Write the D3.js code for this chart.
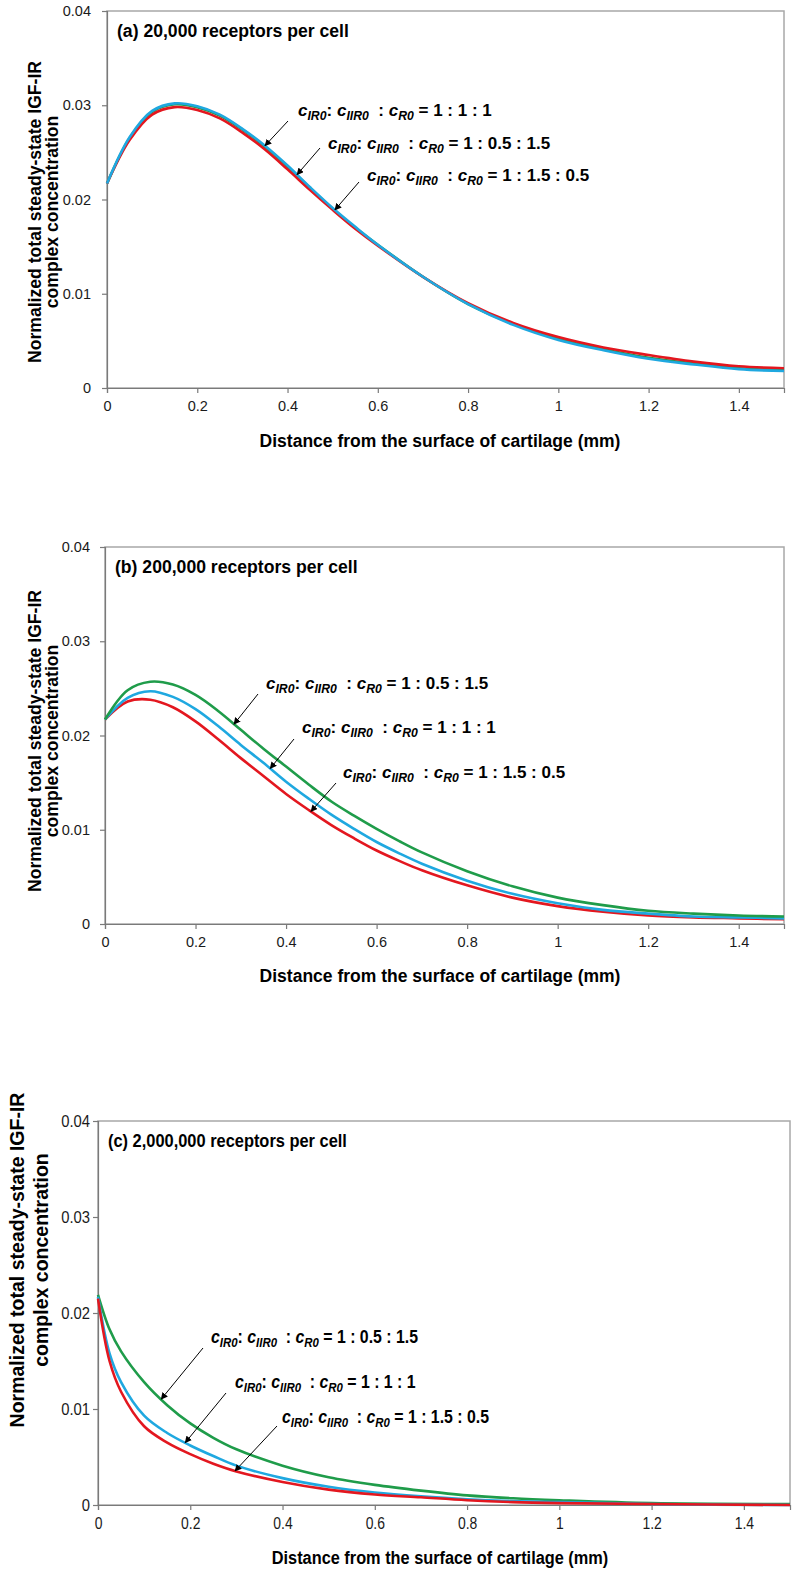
<!DOCTYPE html>
<html>
<head>
<meta charset="utf-8">
<script src="https://cdn.jsdelivr.net/npm/d3@7"></script>
<style>
  body { margin: 0; background: #fff; }
  text { font-family: "Liberation Sans", Arial, sans-serif; }
</style>
</head>
<body>
<div id="chart"></div>
<script>
// tick values / labels
var xTicks = [0, 0.2, 0.4, 0.6, 0.8, 1, 1.2, 1.4]
var xTickLabels = ['0', '0.2', '0.4', '0.6', '0.8', '1', '1.2', '1.4']
var yTicks = [0, 0.01, 0.02, 0.03, 0.04]
var yTickLabels = ['0', '0.01', '0.02', '0.03', '0.04']
var ratioLabels = ['1 : 1 : 1', '1 : 0.5 : 1.5', '1 : 1.5 : 0.5']
var panelTitles = ['(a) 20,000 receptors per cell', '(b) 200,000 receptors per cell', '(c) 2,000,000 receptors per cell']

// panel (a) 20,000 receptors
var distA = [0, 0.05, 0.1, 0.15, 0.2, 0.25, 0.3, 0.35, 0.4, 0.45, 0.5, 0.55, 0.6, 0.7, 0.8, 0.9, 1.0, 1.1, 1.2, 1.3, 1.4, 1.5]
var aRed   = [0.0217, 0.0263, 0.0290, 0.0298, 0.0295, 0.0286, 0.0271, 0.0253, 0.0232, 0.0210, 0.0189, 0.0169, 0.0151, 0.0118, 0.0090, 0.0069, 0.0054, 0.0043, 0.0035, 0.0028, 0.0023, 0.0021]
var aBlue  = [0.0217, 0.0266, 0.0294, 0.0302, 0.0299, 0.0290, 0.0275, 0.0257, 0.0236, 0.0213, 0.0191, 0.0171, 0.0152, 0.0118, 0.0089, 0.0067, 0.0051, 0.0040, 0.0031, 0.0025, 0.0020, 0.0018]
var aGreen = [0.0217, 0.0265, 0.0293, 0.0301, 0.0298, 0.0289, 0.0274, 0.0256, 0.0235, 0.0212, 0.0190, 0.0170, 0.0152, 0.0118, 0.0089, 0.0068, 0.0052, 0.0041, 0.0032, 0.0026, 0.0021, 0.0019]

// panel (b) 200,000 receptors
var distB = [0, 0.05, 0.1, 0.15, 0.2, 0.25, 0.3, 0.35, 0.4, 0.45, 0.5, 0.55, 0.6, 0.65, 0.7, 0.8, 0.9, 1.0, 1.1, 1.2, 1.3, 1.4, 1.5]
var bGreen = [0.0217, 0.0248, 0.0257, 0.0254, 0.0243, 0.0226, 0.0206, 0.0186, 0.0167, 0.0148, 0.0130, 0.0115, 0.0101, 0.0088, 0.0076, 0.0056, 0.0040, 0.0028, 0.0020, 0.0014, 0.0011, 0.0009, 0.0008]
var bBlue  = [0.0217, 0.0240, 0.0247, 0.0241, 0.0228, 0.0210, 0.0190, 0.0171, 0.0151, 0.0133, 0.0116, 0.0101, 0.0087, 0.0075, 0.0064, 0.0046, 0.0032, 0.0022, 0.0015, 0.0011, 0.0008, 0.0007, 0.0006]
var bRed   = [0.0217, 0.0236, 0.0238, 0.0230, 0.0215, 0.0196, 0.0176, 0.0157, 0.0138, 0.0121, 0.0105, 0.0091, 0.0078, 0.0067, 0.0057, 0.0041, 0.0028, 0.0019, 0.0013, 0.0009, 0.0007, 0.0006, 0.0005]

// panel (c) 2,000,000 receptors
var distC = [0, 0.025, 0.05, 0.1, 0.15, 0.2, 0.25, 0.3, 0.4, 0.5, 0.6, 0.7, 0.8, 0.9, 1.0, 1.2, 1.5]
var cGreen = [0.0219, 0.0183, 0.0160, 0.0128, 0.0104, 0.0085, 0.0070, 0.0058, 0.0041, 0.0029, 0.0021, 0.0015, 0.0010, 0.0007, 0.0005, 0.0002, 0.0001]
var cBlue  = [0.0217, 0.0158, 0.0128, 0.0093, 0.0075, 0.0062, 0.0051, 0.0041, 0.0028, 0.0019, 0.0013, 0.0009, 0.0006, 0.0004, 0.0003, 0.0001, 0.0000]
var cRed   = [0.0215, 0.0150, 0.0118, 0.0082, 0.0065, 0.0053, 0.0043, 0.0035, 0.0024, 0.0016, 0.0011, 0.0008, 0.0005, 0.0003, 0.0002, 0.0001, 0.0000]

var colors = {red: '#e3171f', blue: '#1fa8e0', green: '#1f9c4a'}

var panels = [
  {dist: distA, series: {green: aGreen, red: aRed, blue: aBlue}, order: ['green', 'red', 'blue'],
   left: 107, right: 784, top: 11, bottom: 388, sq: 1, tickGap: 11, tickFont: 14.5,
   yTitle: {cy: 212, b1: 41, b2: 58, size: 17.6}, xTitleY: 447,
   notes: [{label: 0, key: 'blue', at: 0.35, tx: 298, ty: 116, ax: 288, ay: 121},
           {label: 1, key: 'blue', at: 0.421, tx: 328, ty: 149, ax: 320, ay: 148},
           {label: 2, key: 'blue', at: 0.505, tx: 367, ty: 181, ax: 359, ay: 182}]},
  {dist: distB, series: {green: bGreen, blue: bBlue, red: bRed}, order: ['red', 'blue', 'green'],
   left: 105, right: 784, top: 547, bottom: 924, sq: 1, tickGap: 10, tickFont: 14.5,
   yTitle: {cy: 741, b1: 41, b2: 58, size: 17.6}, xTitleY: 982,
   notes: [{label: 1, key: 'green', at: 0.285, tx: 266, ty: 689, ax: 258, ay: 694},
           {label: 0, key: 'blue', at: 0.365, tx: 302, ty: 733, ax: 294, ay: 739},
           {label: 2, key: 'red', at: 0.455, tx: 343, ty: 778, ax: 336, ay: 783}]},
  {dist: distC, series: {green: cGreen, blue: cBlue, red: cRed}, order: ['green', 'blue', 'red'],
   left: 98, right: 790, top: 1121, bottom: 1505, sq: 0.87, tickGap: 3, tickFont: 17,
   yTitle: {cy: 1260, b1: 24, b2: 48, size: 19.5}, xTitleY: 1564,
   notes: [{label: 1, key: 'green', at: 0.137, tx: 211, ty: 1343, ax: 203, ay: 1348},
           {label: 0, key: 'blue', at: 0.189, tx: 235, ty: 1388, ax: 226, ay: 1393},
           {label: 2, key: 'red', at: 0.297, tx: 282, ty: 1423, ax: 277, ay: 1426}]}
]

var width = 796
var height = 1575
var svg = d3.select('#chart').append('svg')
  .attr('width', width)
  .attr('height', height)

svg.append('defs').append('marker')
  .attr('id', 'head')
  .attr('viewBox', '0 0 10 10')
  .attr('refX', 9).attr('refY', 5)
  .attr('markerWidth', 7).attr('markerHeight', 7)
  .attr('markerUnits', 'userSpaceOnUse')
  .attr('orient', 'auto')
  .append('path').attr('d', 'M0,0 L10,5 L0,10 z').attr('fill', '#000')

function valueAt(dist, vals, d) {
  var i = d3.bisectRight(dist, d) - 1
  if (i >= dist.length - 1) return vals[vals.length - 1]
  var t = (d - dist[i]) / (dist[i + 1] - dist[i])
  return vals[i] + t * (vals[i + 1] - vals[i])
}

// squeezed text: scale horizontally around anchor x
function sqText(g, x, y, sq, size) {
  return g.append('text')
    .attr('transform', 'translate(' + x + ',' + y + ') scale(' + sq + ',1)')
    .attr('font-size', size / Math.sqrt(sq))
}

panels.forEach(function(p, pi) {
  var x = d3.scaleLinear().domain([0, 1.5]).range([p.left, p.right])
  var y = d3.scaleLinear().domain([0, 0.04]).range([p.bottom, p.top])
  var g = svg.append('g')

  // frame
  g.append('rect')
    .attr('x', p.left).attr('y', p.top)
    .attr('width', p.right - p.left).attr('height', p.bottom - p.top)
    .attr('fill', 'none').attr('stroke', '#a8a8a8').attr('stroke-width', 1.5)

  var yAxis = g.append('g')
    .attr('transform', 'translate(' + p.left + ',0)')
    .call(d3.axisLeft(y).tickValues(yTicks).tickSize(5).tickPadding(p.tickGap)
      .tickFormat(function(d, i) { return yTickLabels[i] }))
  var xAxis = g.append('g')
    .attr('transform', 'translate(0,' + p.bottom + ')')
    .call(d3.axisBottom(x).tickValues(xTicks).tickSize(5).tickPadding(8)
      .tickFormat(function(d, i) { return xTickLabels[i] }))
  ;[yAxis, xAxis].forEach(function(ax) {
    ax.select('.domain').attr('stroke', '#7a7a7a').attr('stroke-width', 1.2)
    ax.selectAll('.tick line').attr('stroke', '#7a7a7a').attr('stroke-width', 1.2)
    ax.selectAll('.tick text')
      .attr('fill', '#1a1a1a')
      .attr('font-family', '"Liberation Sans", Arial, sans-serif')
      .attr('font-size', p.tickFont)
  })
  if (p.sq !== 1) {
    xAxis.selectAll('.tick text').attr('transform', 'scale(' + p.sq + ',1)').attr('font-size', 16)
    yAxis.selectAll('.tick text').each(function() {
      var t = d3.select(this)
      var off = +t.attr('x')
      t.attr('x', off / p.sq).attr('transform', 'scale(' + p.sq + ',1)')
    })
  }

  // curves
  var line = d3.line()
    .x(function(d) { return x(d[0]) })
    .y(function(d) { return y(d[1]) })
    .curve(d3.curveCatmullRom.alpha(0.5))
  p.order.forEach(function(key) {
    var pts = p.dist.map(function(d, i) { return [d, p.series[key][i]] })
    g.append('path')
      .datum(pts)
      .attr('d', line)
      .attr('fill', 'none')
      .attr('stroke', colors[key])
      .attr('stroke-width', 2.6)
  })

  // panel title
  sqText(g, p.left + 10, p.top + 26, p.sq, 17.6)
    .attr('font-weight', 'bold')
    .text(panelTitles[pi])

  // axis titles
  sqText(g, 440, p.xTitleY, p.sq, 17.5)
    .attr('text-anchor', 'middle')
    .attr('font-weight', 'bold')
    .text('Distance from the surface of cartilage (mm)')
  var yt = g.append('text')
    .attr('transform', 'translate(0,' + p.yTitle.cy + ') rotate(-90)')
    .attr('text-anchor', 'middle')
    .attr('font-weight', 'bold')
    .attr('font-size', p.yTitle.size)
  yt.append('tspan').attr('x', 0).attr('y', p.yTitle.b1).text('Normalized total steady-state IGF-IR')
  yt.append('tspan').attr('x', 0).attr('y', p.yTitle.b2).text('complex concentration')

  // annotations
  p.notes.forEach(function(n) {
    var vx = n.at
    var vy = valueAt(p.dist, p.series[n.key], vx)
    g.append('line')
      .attr('x1', n.ax).attr('y1', n.ay)
      .attr('x2', x(vx)).attr('y2', y(vy))
      .attr('stroke', '#000').attr('stroke-width', 1)
      .attr('marker-end', 'url(#head)')
    var t = sqText(g, n.tx, n.ty, p.sq, 17).attr('font-weight', 'bold')
    var parts = [['c', 'IR0', ': '], ['c', 'IIR0', '  : '], ['c', 'R0', ' = ' + ratioLabels[n.label]]]
    parts.forEach(function(pt) {
      t.append('tspan').attr('font-style', 'italic').text(pt[0])
      t.append('tspan').attr('font-style', 'italic').attr('font-size', '0.72em').attr('dy', 4).text(pt[1])
      t.append('tspan').attr('dy', -4).attr('xml:space', 'preserve').style('white-space', 'pre').text(pt[2])
    })
  })
})
</script>
</body>
</html>
